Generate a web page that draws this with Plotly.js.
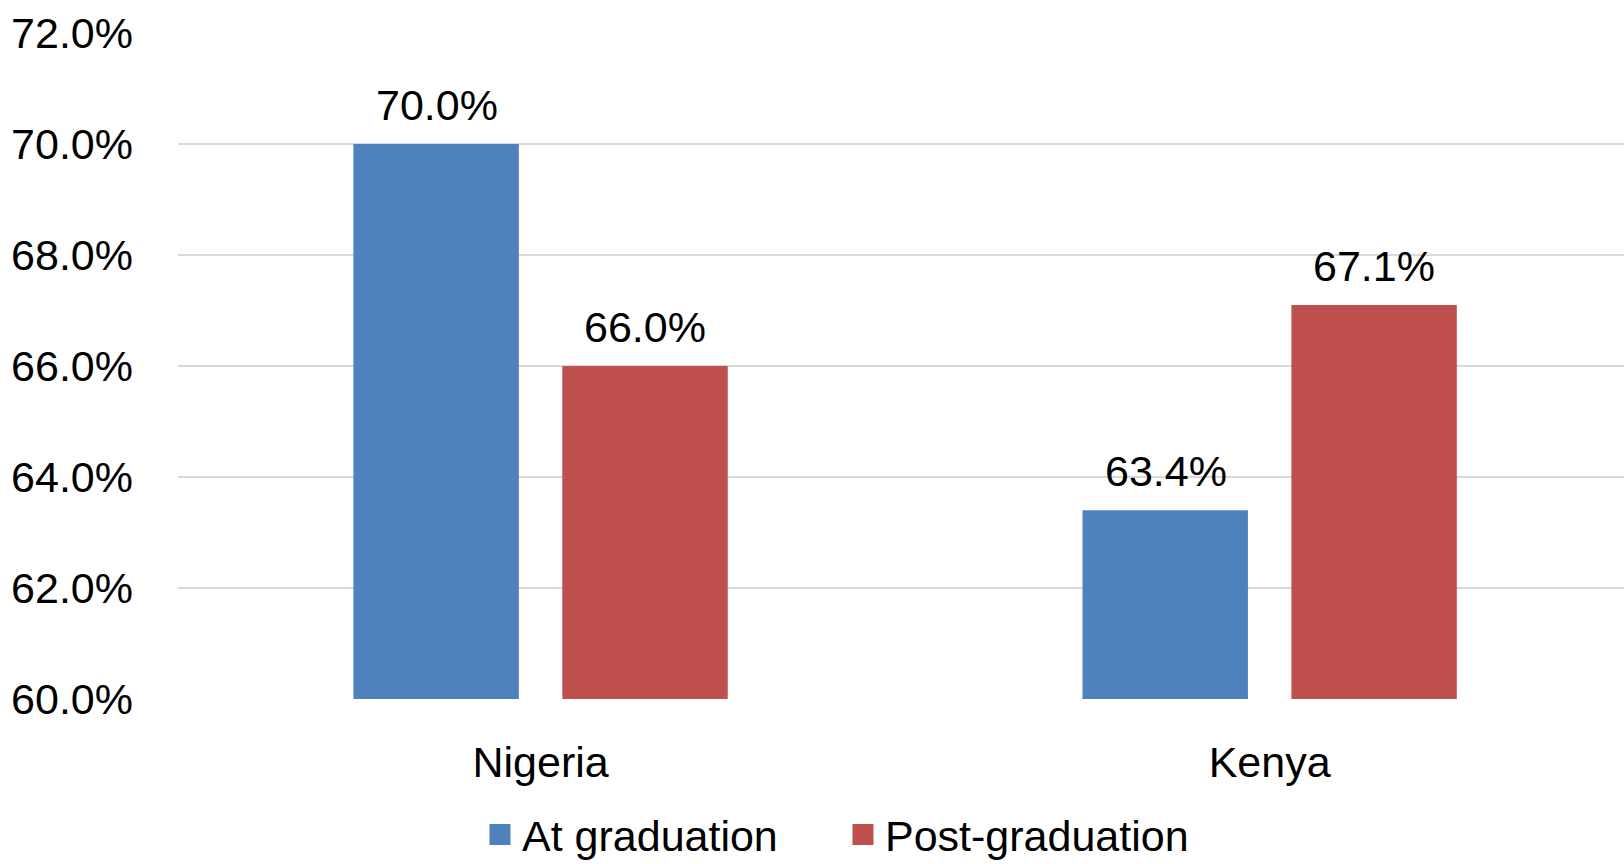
<!DOCTYPE html>
<html>
<head>
<meta charset="utf-8">
<script src="https://cdn.plot.ly/plotly-3.0.1.min.js"></script>
<style>html,body{margin:0;padding:0;background:#fff;}#chart{width:1624px;height:864px;}</style>
</head>
<body>
<div id="chart"></div>
<script>
const categories = ["Nigeria", "Kenya"];
const atGraduation = [70.0, 63.4];
const postGraduation = [66.0, 67.1];
const seriesNames = ["At graduation", "Post-graduation"];
const seriesColors = ["#4f81bd", "#c0504d"];
const yTicks = [60, 62, 64, 66, 68, 70, 72];

const FONT = "Liberation Sans, Arial, sans-serif";
const labelFont = {family: FONT, size: 43, color: "#000"};
const SLOT_SHIFT = 104;

function bar(i, vals) {
  return {
    type: "bar", name: seriesNames[i], x: categories, y: vals,
    marker: {color: seriesColors[i]}, showlegend: false, hoverinfo: "skip"
  };
}
function legendItem(i) {
  return {
    type: "scatter", mode: "markers", name: seriesNames[i], x: [null], y: [null],
    marker: {symbol: "square", size: 16, color: seriesColors[i], line: {color: seriesColors[i], width: 5}},
    showlegend: true, hoverinfo: "skip"
  };
}

const data = [bar(0, atGraduation), bar(1, postGraduation), legendItem(0), legendItem(1)];

const annotations = [];
[atGraduation, postGraduation].forEach((vals, i) => {
  vals.forEach((v, j) => {
    annotations.push({
      x: categories[j], y: v, xref: "x", yref: "y",
      text: v.toFixed(1) + "%", showarrow: false,
      xshift: (i === 0 ? -1 : 1) * SLOT_SHIFT, yanchor: "bottom", yshift: 13,
      font: labelFont
    });
  });
});

const layout = {
  width: 1624, height: 864,
  margin: {l: 178, r: 0, t: 33, b: 165},
  paper_bgcolor: "#fff", plot_bgcolor: "#fff",
  barmode: "group", bargap: 0.427, bargroupgap: 0.208,
  showlegend: true,
  legend: {orientation: "h", x: 0.4585, xanchor: "center", yref: "container", y: 0.034, yanchor: "middle",
           font: labelFont, itemwidth: 34, tracegroupgap: 0, entrywidth: 314, entrywidthmode: "pixels"},
  annotations: annotations,
  xaxis: {range: [-0.4973, 1.486], tickfont: labelFont, showgrid: false, showline: false, ticks: "", ticklabelstandoff: 34},
  yaxis: {range: [60, 72], tickvals: yTicks, ticktext: yTicks.map(v => v.toFixed(1) + "%"),
          tickfont: labelFont, showgrid: true, gridcolor: "#d9d9d9", gridwidth: 2,
          zeroline: false, showline: false, ticks: "", ticklabelstandoff: 44},
  font: {family: FONT}
};

Plotly.newPlot("chart", data, layout, {staticPlot: true});
</script>
</body>
</html>
